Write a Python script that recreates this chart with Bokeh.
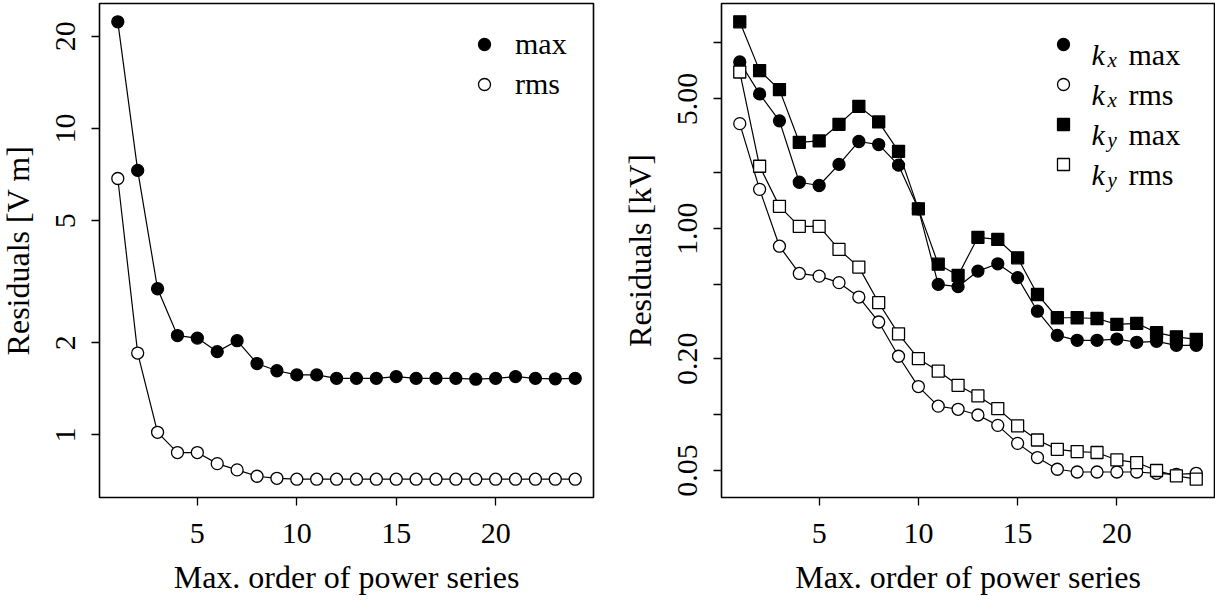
from bokeh.plotting import figure
from bokeh.models import Range1d, FixedTicker, Legend, LegendItem, Label
from bokeh.layouts import row
from bokeh.embed import file_html
from bokeh.resources import INLINE
import math

# ---------------- data ----------------
order = list(range(1, 25))

# left panel: residuals [V m]
field_max = [22.3, 7.3, 3.0, 2.11, 2.07, 1.87, 2.03, 1.71, 1.62, 1.57, 1.57, 1.53,
             1.53, 1.53, 1.55, 1.53, 1.53, 1.53, 1.52, 1.53, 1.55, 1.53, 1.525, 1.53]
field_rms = [6.87, 1.85, 1.02, 0.876, 0.876, 0.806, 0.769, 0.733, 0.722, 0.717, 0.717, 0.717,
             0.717, 0.717, 0.717, 0.717, 0.717, 0.717, 0.717, 0.717, 0.717, 0.717, 0.717, 0.717]

# right panel: residuals [kV]
kx_max = [7.9, 5.32, 3.81, 1.78, 1.71, 2.22, 2.95, 2.84, 2.20, 1.28, 0.502, 0.488,
          0.592, 0.648, 0.546, 0.36, 0.267, 0.251, 0.251, 0.255, 0.245, 0.248, 0.236, 0.236]
kx_rms = [3.68, 1.63, 0.806, 0.575, 0.556, 0.513, 0.429, 0.315, 0.206, 0.1415, 0.111, 0.1068,
          0.0995, 0.0875, 0.070, 0.0587, 0.0508, 0.0491, 0.0491, 0.0491, 0.0491, 0.0483, 0.0477, 0.0483]
ky_max = [13.0, 7.1, 5.61, 2.92, 2.97, 3.65, 4.56, 3.76, 2.61, 1.28, 0.645, 0.561,
          0.90, 0.876, 0.698, 0.443, 0.332, 0.332, 0.329, 0.306, 0.31, 0.276, 0.262, 0.254]
ky_rms = [6.98, 2.17, 1.32, 1.03, 1.03, 0.774, 0.622, 0.40, 0.272, 0.2, 0.1715, 0.1437,
          0.126, 0.1076, 0.0869, 0.073, 0.065, 0.0632, 0.0625, 0.057, 0.0552, 0.05, 0.0468, 0.0449]

x_ticks = [5, 10, 15, 20]
left_yticks = [1, 2, 5, 10, 20]
left_ylabels = ["1", "2", "5", "10", "20"]
right_yticks = [0.05, 0.1, 0.2, 0.5, 1, 2, 5, 10]
right_ylabels = ["0.05", "", "0.20", "", "1.00", "", "5.00", ""]

x_title = "Max. order of power series"
left_ytitle = "Residuals [V m]"
right_ytitle = "Residuals [kV]"
left_legend = ["max", "rms"]
right_legend = [("k", "x", "max"), ("k", "x", "rms"), ("k", "y", "max"), ("k", "y", "rms")]

FONT = "Liberation Serif"
TICK_SIZE = "30px"
TITLE_SIZE = "32px"


def log_range(*series):
    vals = [v for s in series for v in s]
    lo, hi = math.log10(min(vals)), math.log10(max(vals))
    pad = 0.04 * (hi - lo)
    return 10 ** (lo - pad), 10 ** (hi + pad)


def x_range():
    lo, hi = min(order), max(order)
    pad = 0.04 * (hi - lo)
    return Range1d(lo - pad, hi + pad)


def make_fig(frame_w, b_left, b_right, ylo, yhi, yticks, ylabels, ytitle):
    p = figure(frame_width=frame_w, frame_height=494, y_axis_type="log",
               x_range=x_range(), y_range=Range1d(ylo, yhi),
               output_backend="svg", toolbar_location=None,
               min_border_left=b_left, min_border_right=b_right,
               min_border_top=3, min_border_bottom=103)
    p.grid.visible = False
    p.background_fill_color = "white"
    p.border_fill_color = "white"
    p.outline_line_color = "black"
    p.outline_line_width = 1.6
    for ax in (p.xaxis[0], p.yaxis[0]):
        ax.axis_line_color = None
        ax.major_tick_in = 0
        ax.major_tick_out = 8
        ax.major_tick_line_width = 1.3
        ax.major_tick_line_color = "black"
        ax.minor_tick_in = 0
        ax.minor_tick_out = 0
        ax.major_label_text_font = FONT
        ax.major_label_text_font_size = TICK_SIZE
        ax.major_label_text_color = "black"
        ax.axis_label_text_font = FONT
        ax.axis_label_text_font_size = TITLE_SIZE
        ax.axis_label_text_font_style = "normal"
        ax.axis_label_text_color = "black"
    p.xaxis.ticker = FixedTicker(ticks=x_ticks, minor_ticks=[])
    p.xaxis.major_label_overrides = {t: str(t) for t in x_ticks}
    p.xaxis.major_label_standoff = 18
    p.xaxis.axis_label = x_title
    p.xaxis.axis_label_standoff = 13
    p.yaxis.ticker = FixedTicker(ticks=yticks, minor_ticks=[])
    p.yaxis.major_label_overrides = {t: l for t, l in zip(yticks, ylabels)}
    p.yaxis.major_label_orientation = "vertical"
    p.yaxis.major_label_standoff = 16
    p.yaxis.axis_label = ytitle
    p.yaxis.axis_label_standoff = 18
    return p


def series(p, y, marker, filled):
    p.line(order, y, line_color="black", line_width=1.2)
    return p.scatter(order, y, marker=marker, size=12,
                     fill_color="black" if filled else "white",
                     line_color="black", line_width=1.3)


# ---------------- left panel ----------------
lo1, hi1 = log_range(field_max, field_rms)
p1 = make_fig(494, 99, 14, lo1, hi1, left_yticks, left_ylabels, left_ytitle)
s1 = series(p1, field_max, "circle", True)
s2 = series(p1, field_rms, "circle", False)
leg1 = Legend(items=[LegendItem(label=left_legend[0], renderers=[s1]),
                     LegendItem(label=left_legend[1], renderers=[s2])],
              location=(370, 392.7), orientation="vertical",
              glyph_width=30, glyph_height=40, label_standoff=16,
              padding=0, spacing=0, margin=0,
              border_line_color=None, background_fill_alpha=0,
              label_text_font=FONT, label_text_font_size=TICK_SIZE,
              label_text_color="black")
p1.add_layout(leg1)

# ---------------- right panel ----------------
lo2, hi2 = log_range(kx_max, kx_rms, ky_max, ky_rms)
p2 = make_fig(493, 114, 1, lo2, hi2, right_yticks, right_ylabels, right_ytitle)
r1 = series(p2, kx_max, "circle", True)
r2 = series(p2, kx_rms, "circle", False)
r3 = series(p2, ky_max, "square", True)
r4 = series(p2, ky_rms, "square", False)
leg2 = Legend(items=[LegendItem(label=" ", renderers=[r]) for r in (r1, r2, r3, r4)],
              location=(327.4, 312.7), orientation="vertical",
              glyph_width=30, glyph_height=40, label_standoff=0,
              padding=0, spacing=0, margin=0,
              border_line_color=None, background_fill_alpha=0,
              label_text_font=FONT, label_text_font_size="1px")
p2.add_layout(leg2)

frame_h = 494
for i, (k, sub, word) in enumerate(right_legend):
    base = frame_h - (50.5 + 40 * i)   # baseline, measured up from frame bottom
    p2.add_layout(Label(x=370, y=base, x_units="screen", y_units="screen", text=k,
                        text_font=FONT, text_font_size="30px", text_font_style="italic",
                        text_baseline="alphabetic", text_color="black"))
    p2.add_layout(Label(x=386, y=base - 6, x_units="screen", y_units="screen", text=sub,
                        text_font=FONT, text_font_size="21px", text_font_style="italic",
                        text_baseline="alphabetic", text_color="black"))
    p2.add_layout(Label(x=407, y=base, x_units="screen", y_units="screen", text=word,
                        text_font=FONT, text_font_size="30px",
                        text_baseline="alphabetic", text_color="black"))

layout = row(p1, p2, margin=(0, 0, 0, -4))
open("out.html", "w").write(file_html(layout, INLINE))
